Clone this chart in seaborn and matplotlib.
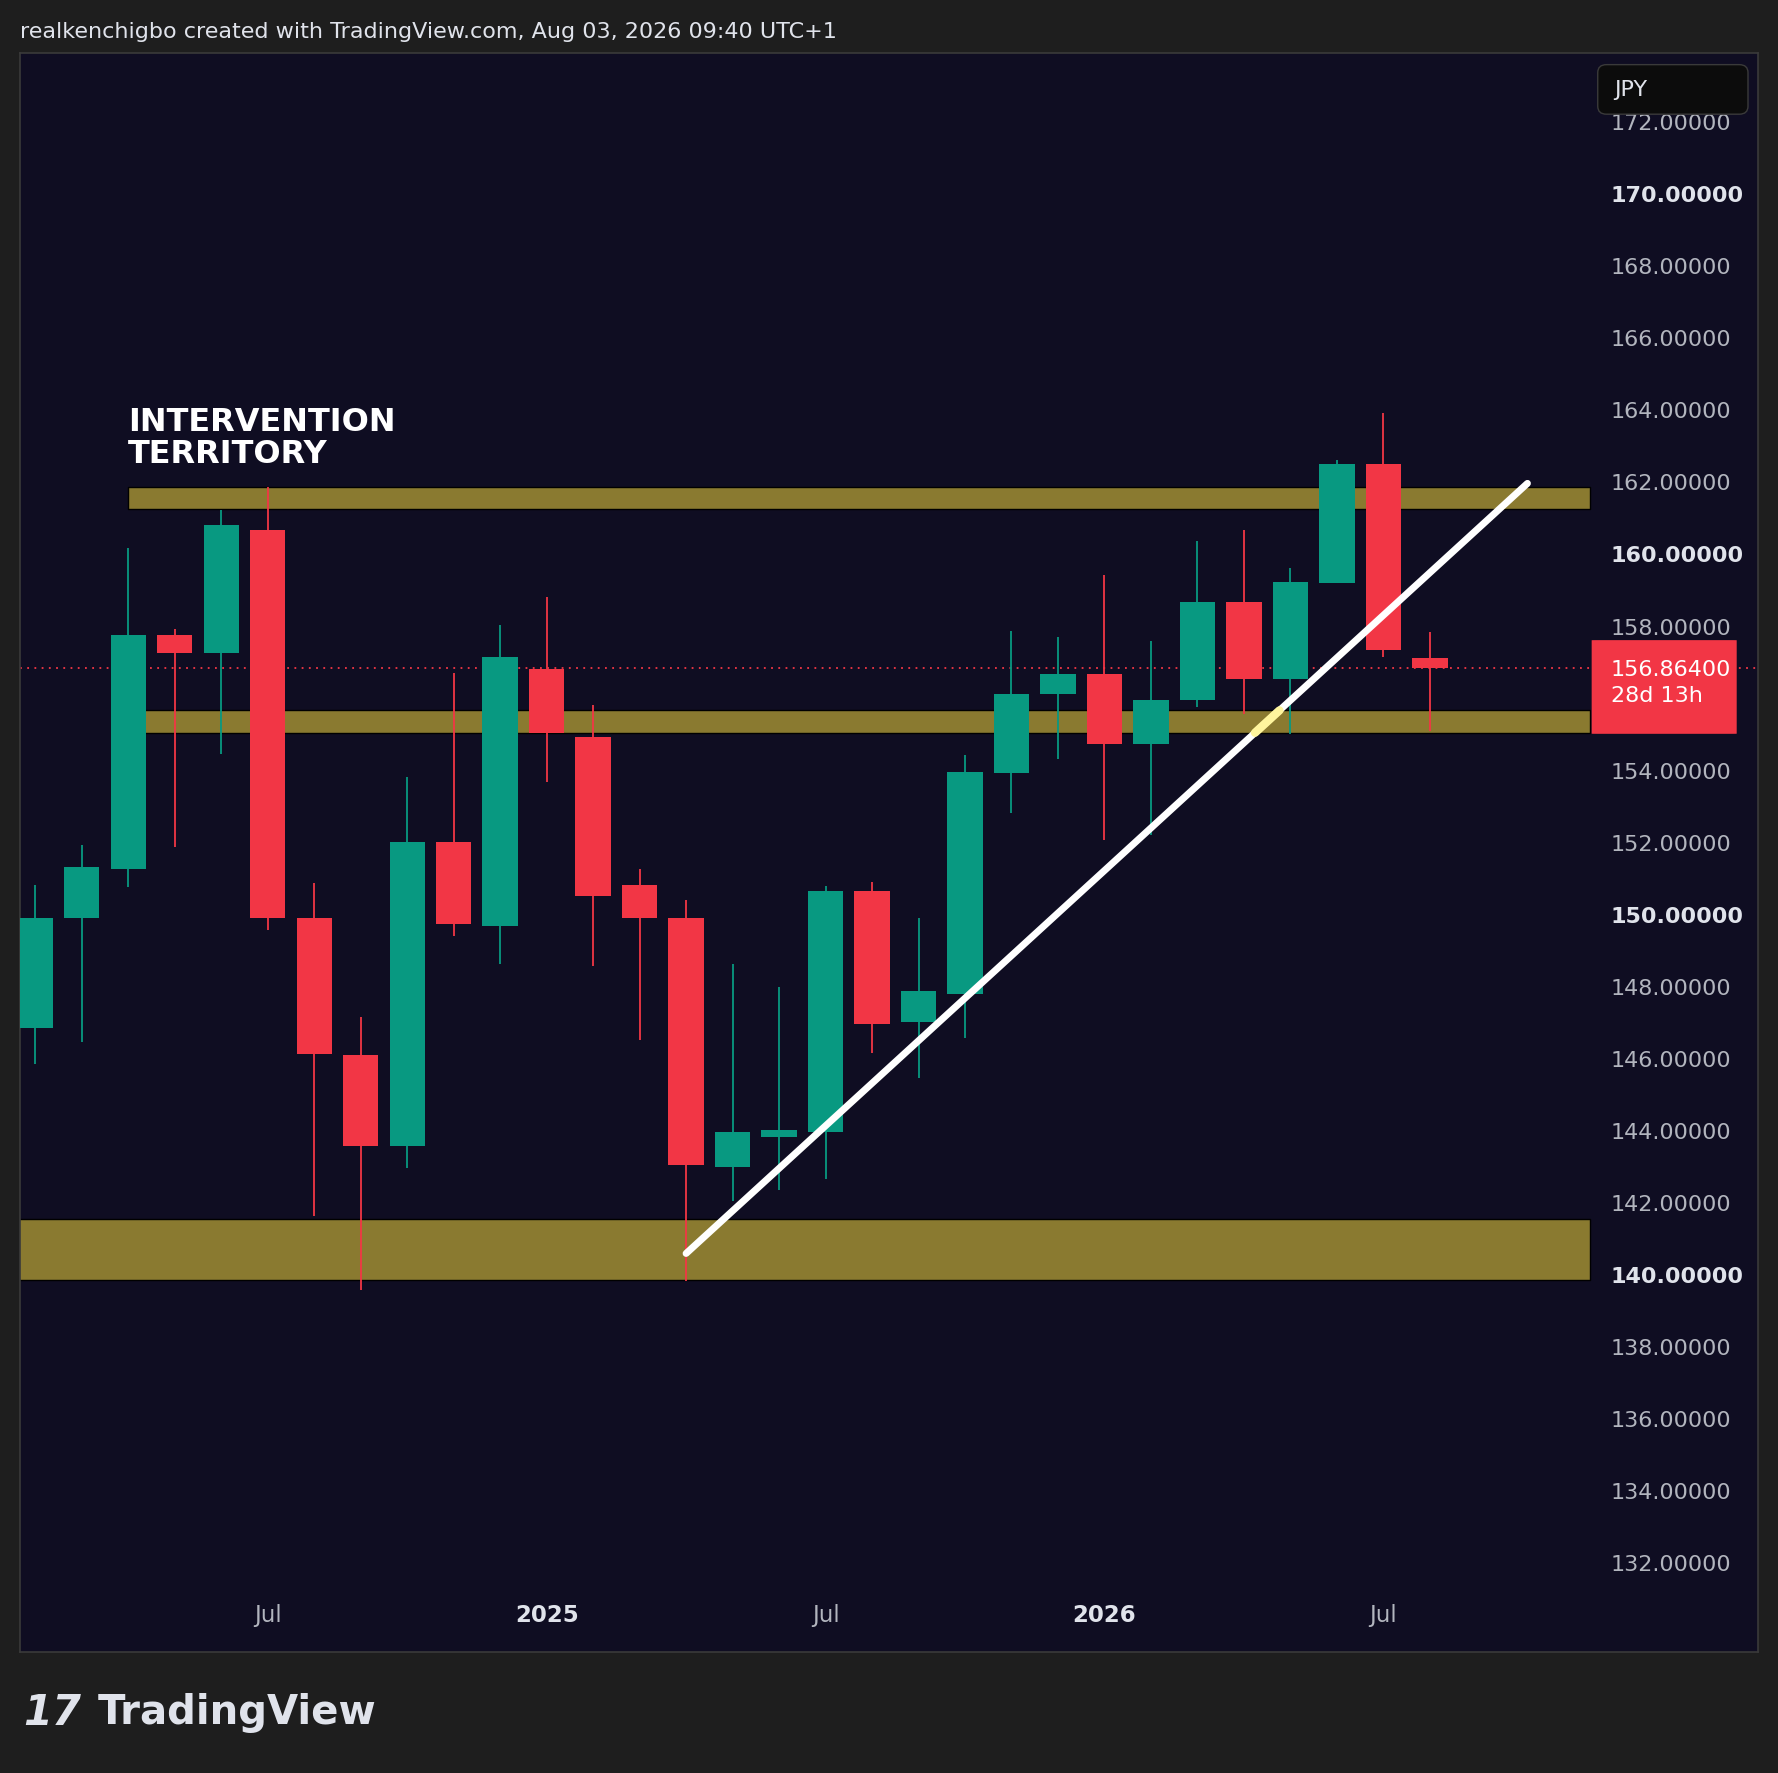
import matplotlib
matplotlib.use("Agg")
import matplotlib.pyplot as plt
import matplotlib.transforms as mtransforms
from matplotlib.patches import FancyBboxPatch
import seaborn as sns
import pandas as pd

sns.set_theme(style="dark")
plt.rcParams['font.family'] = ['DejaVu Sans']

months = ["2024-02","2024-03","2024-04","2024-05","2024-06","2024-07","2024-08","2024-09","2024-10","2024-11","2024-12",
          "2025-01","2025-02","2025-03","2025-04","2025-05","2025-06","2025-07","2025-08","2025-09","2025-10","2025-11","2025-12",
          "2026-01","2026-02","2026-03","2026-04","2026-05","2026-06","2026-07","2026-08"]
opens  = [146.9,149.95,151.3,157.8,157.28,160.7,149.95,146.14,143.62,152.06,149.73,156.84,154.95,150.86,149.95,143.02,143.87,144.0,150.7,147.05,147.84,153.95,156.15,156.7,154.76,156.0,158.7,156.56,159.23,162.54,157.15]
closes = [149.95,151.36,157.78,157.28,160.84,149.95,146.17,143.62,152.06,149.76,157.19,155.08,150.54,149.95,143.08,144.0,144.06,150.7,147.0,147.9,153.98,156.15,156.7,154.76,156.0,158.7,156.56,159.26,162.54,157.37,156.864]
highs  = [150.86,151.96,160.2,157.97,161.25,161.9,150.9,147.18,153.85,156.75,158.07,158.85,155.86,151.3,150.45,148.66,148.03,150.83,150.95,149.95,154.45,157.9,157.75,159.45,157.63,160.4,160.7,159.64,162.66,163.95,157.88]
lows   = [145.9,146.5,150.8,151.9,154.5,149.6,141.67,139.62,142.99,149.44,148.66,153.72,148.6,146.55,139.87,142.08,142.4,142.7,146.2,145.5,146.6,152.84,154.35,152.1,152.24,155.8,155.6,155.05,159.23,157.19,155.14]

zone_lo = [161.3, 155.08, 139.9]
zone_hi = [161.9, 155.7, 141.6]
zone_start = [2.0, 2.3, -0.4]
zone_end = 33.44
trend_x = [14.0, 32.1]
trend_y = [140.63, 162.0]
last_price = 156.864
ytick_vals = [v for v in range(132, 173, 2) if v != 156]
xtick_pos = [5, 11, 17, 23, 29]
xtick_lab = ["Jul", "2025", "Jul", "2026", "Jul"]

df = pd.DataFrame({"m": months, "o": opens, "c": closes, "h": highs, "l": lows})
df["x"] = range(len(df))
df["up"] = df.c >= df.o

GREEN = "#089981"; RED = "#f23645"; BG = "#0f0d22"; OUT = "#1e1e1e"; ZONE = "#8a7a30"

fig = plt.figure(figsize=(17.78, 17.74), dpi=100, facecolor=OUT)
ax = fig.add_axes([0.0115, 0.0684, 0.977, 0.9009])
ax.set_facecolor(BG)
ax.set_xlim(-0.32, 37.05)
ax.set_ylim(129.58, 173.93)

for lo, hi, s in zip(zone_lo, zone_hi, zone_start):
    ax.fill_between([s, zone_end], lo, hi, color=ZONE, zorder=1, edgecolor="black", linewidth=1)

for _, r in df.iterrows():
    col = GREEN if r.up else RED
    ax.vlines(r.x, r.l, r.h, color=col, linewidth=1.3, zorder=3)
    b = min(r.o, r.c); hgt = max(abs(r.c - r.o), 0.12)
    ax.bar(r.x, hgt, bottom=b, width=0.76, color=col, edgecolor="none", linewidth=0, zorder=4)

ax.plot(trend_x, trend_y, color="white", linewidth=5, solid_capstyle="round", zorder=5)
slope = (trend_y[1] - trend_y[0]) / (trend_x[1] - trend_x[0])
hx = [trend_x[0] + (zone_lo[1] - trend_y[0]) / slope, trend_x[0] + (zone_hi[1] - trend_y[0]) / slope]
ax.plot(hx, [zone_lo[1], zone_hi[1]], color="#fff59d", linewidth=6, zorder=6)
ax.axhline(last_price, color=RED, linestyle=(0, (1, 3)), linewidth=1.3, zorder=2)

ax.text(2.0, 162.4, "INTERVENTION\nTERRITORY", color="white", fontsize=23, fontweight="bold",
        va="bottom", ha="left", linespacing=1.05, zorder=6)

trans = mtransforms.blended_transform_factory(ax.transAxes, ax.transData)
for v in ytick_vals:
    bold = v % 10 == 0
    ax.text(0.9155, v, f"{v:.5f}", transform=trans, color="#e0e3eb" if bold else "#b2b5be",
            fontsize=16, fontweight="bold" if bold else "normal", va="center", ha="left", zorder=6)
ax.set_yticks([])
ax.set_xticks(xtick_pos)
ax.set_xticklabels(xtick_lab)
for t, lab in zip(ax.get_xticklabels(), xtick_lab):
    t.set_color("#b2b5be"); t.set_fontsize(16.5)
    if lab.isdigit():
        t.set_fontweight("bold"); t.set_color("#e0e3eb")
ax.tick_params(axis="x", length=0, pad=-35)
for s in ax.spines.values():
    s.set_color("#3a3a3a"); s.set_linewidth(1.2)

# price label
ax.add_patch(FancyBboxPatch((0.9045, 155.05), 0.0835, 2.6, transform=trans, boxstyle="round,pad=0,rounding_size=0.003",
                            facecolor=RED, edgecolor="none", zorder=7, clip_on=False))
ax.text(0.9155, last_price - 0.38, f"{last_price:.5f}\n28d 13h", transform=trans, color="white",
        fontsize=16, va="center", linespacing=1.35, zorder=8)

# JPY box
ax.add_patch(FancyBboxPatch((0.908, 0.962), 0.0865, 0.031, transform=ax.transAxes,
                            boxstyle="round,pad=0,rounding_size=0.005", facecolor="#0c0c0c",
                            edgecolor="#3a3a3a", zorder=7))
ax.text(0.9175, 0.9775, "JPY", transform=ax.transAxes, color="#e0e3eb", fontsize=16, va="center", zorder=8)

fig.text(0.0115, 0.982, "realkenchigbo created with TradingView.com, Aug 03, 2026 09:40 UTC+1",
         color="#e0e3eb", fontsize=16, va="center")
fig.text(0.013, 0.0345, "17", color="#e0e3eb", fontsize=30, fontweight="bold", va="center", style="italic")
fig.text(0.055, 0.0345, "TradingView", color="#e0e3eb", fontsize=29, fontweight="bold", va="center")

fig.savefig("out.png", dpi=100, facecolor=OUT)
